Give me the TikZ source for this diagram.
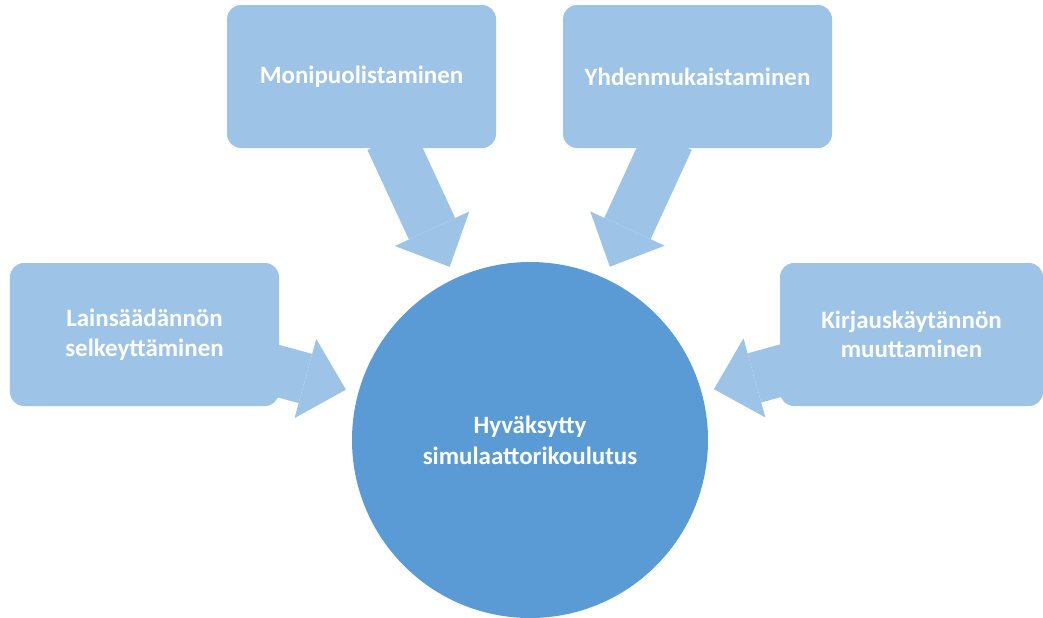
\documentclass[tikz,border=0pt]{standalone}
\usepackage{fontspec}
\setmainfont{Carlito}
\usetikzlibrary{positioning, arrows.meta}

\definecolor{boxblue}{RGB}{157,195,230}
\definecolor{hubblue}{RGB}{91,155,213}

\tikzset{
    goal/.style={rounded corners=0.28cm, fill=boxblue, minimum width=5.38cm, minimum height=2.86cm, align=center, text=white, font=\bfseries\fontsize{14.2}{16.8}\selectfont},
    hubnode/.style={circle, fill=hubblue, minimum size=7.12cm, align=center, text=white, font=\bfseries\fontsize{14.2}{17.6}\selectfont},
    bigarrow/.style={boxblue, line width=1.02cm, -{Triangle[width=1.64cm, length=0.84cm, line width=0pt]}, shorten <=-0.2cm, shorten >=0.25cm}
}

\begin{document}
\begin{tikzpicture}
    \clip (0,0) rectangle (20.86,12.34);
    \node (hub) [hubnode] at (10.6,3.54) {Hyväksytty\\simulaattorikoulutus};
    \node (mono) [goal] at (7.23,10.81) {Monipuolistaminen};
    \node (yhden) [goal] at (13.95,10.81) {Yhdenmukaistaminen};
    \node (laki) [goal] at (2.89,5.65) {Lainsäädännön\\selkeyttäminen};
    \node (kirjaus) [goal, minimum width=5.26cm] at (18.23,5.65) {Kirjauskäytännön\\muuttaminen};
    % Block arrows towards the hub
    \draw [bigarrow] (mono) -- (hub);
    \draw [bigarrow] (yhden) -- (hub);
    \draw [bigarrow] (laki) -- (hub);
    \draw [bigarrow] (kirjaus) -- (hub);
\end{tikzpicture}
\end{document}
